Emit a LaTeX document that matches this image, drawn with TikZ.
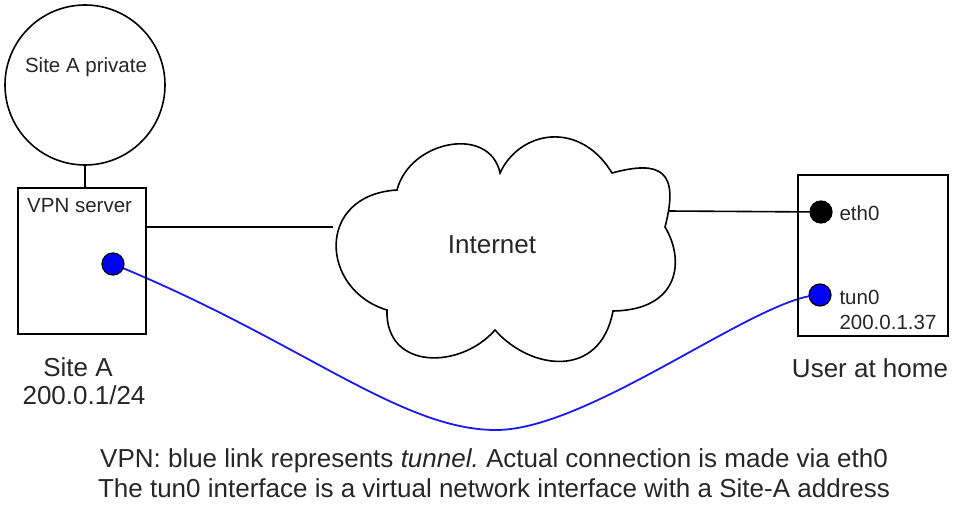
\documentclass[tikz,border=0pt]{standalone}
\usepackage{fontspec}
\setmainfont{Liberation Sans}
\pgfdeclarelayer{bg}
\pgfsetlayers{bg,main}
\definecolor{txt}{HTML}{262626}
\definecolor{tunblue}{HTML}{1A1AF0}
\begin{document}
\frenchspacing
\begin{tikzpicture}[x=1pt,y=-1pt,
  boxnode/.style={draw=black, line width=1.7pt, inner sep=0pt},
  dotnode/.style={circle, draw=black, line width=1.2pt, minimum size=22pt, inner sep=0pt},
  smalltxt/.style={font=\fontsize{20.5}{24}\selectfont, text=txt},
  bigtxt/.style={font=\fontsize{26}{30}\selectfont, text=txt},
  link/.style={draw=black, line width=1.6pt},
  tunlink/.style={draw=tunblue, line width=1.8pt}]
\useasboundingbox (0,0) rectangle (957,505);

% Site A private network
\node[draw=black, circle, line width=1.6pt, minimum size=160pt, inner sep=0pt] (priv) at (85,85) {};
\node[smalltxt] (privl) at (86,67) {Site A private};

% VPN server box
\node[boxnode, minimum width=128pt, minimum height=146pt] (vpn) at (82,261) {};
\node[smalltxt, anchor=west, inner sep=0pt] (vpnl) at (27,206) {VPN server};
\node[dotnode, fill=blue] (adot) at (113,264) {};
\node[bigtxt] (sa1) at (78,367) {Site A};
\node[bigtxt] (sa2) at (84,395) {200.0.1/24};

% Internet cloud
\node[bigtxt] (inet) at (492,245) {Internet};
\coordinate (cL) at (333,227);
\coordinate (cR) at (668,211);
\draw[line width=1.6pt]
  (397,190) .. controls (410,140) and (490,125) .. (500,173)
  .. controls (520,130) and (580,120) .. (612,173)
  .. controls (660,160) and (680,170) .. (665,227)
  .. controls (685,260) and (680,310) .. (613,311)
  .. controls (600,380) and (530,370) .. (495,330)
  .. controls (460,370) and (385,370) .. (387,310)
  .. controls (320,290) and (315,195) .. cycle;

% User at home
\node[boxnode, minimum width=150pt, minimum height=161pt] (user) at (873,255.5) {};
\node[dotnode, fill=black] (eth) at (821,212) {};
\node[dotnode, fill=blue] (tun) at (820,295) {};
\node[smalltxt, anchor=west] (ethl) at (836,213) {eth0};
\node[smalltxt, anchor=west] (tunl) at (836,297) {tun0};
\node[smalltxt, anchor=west] (ipl) at (836,322) {200.0.1.37};
\node[bigtxt] (userl) at (870,368) {User at home};

% connectors
\coordinate (low) at (496,430);
\begin{pgfonlayer}{bg}
  \draw[link] (priv.south) -- (priv.south |- vpn.north);
  \draw[link] (vpn.east |- cL) -- (cL);
  \draw[link] (cR) -- (eth.center);
  \draw[tunlink] (adot.center) .. controls (300,340) and (400,430) .. (low)
     .. controls (590,430) and (760,295) .. (tun.center);
\end{pgfonlayer}

% caption
\node[bigtxt, align=center] (cap) at (494,473)
  {VPN: blue link represents \textit{tunnel.} Actual connection is made via eth0\\
   The tun0 interface is a virtual network interface with a Site-A address};
\end{tikzpicture}
\end{document}
